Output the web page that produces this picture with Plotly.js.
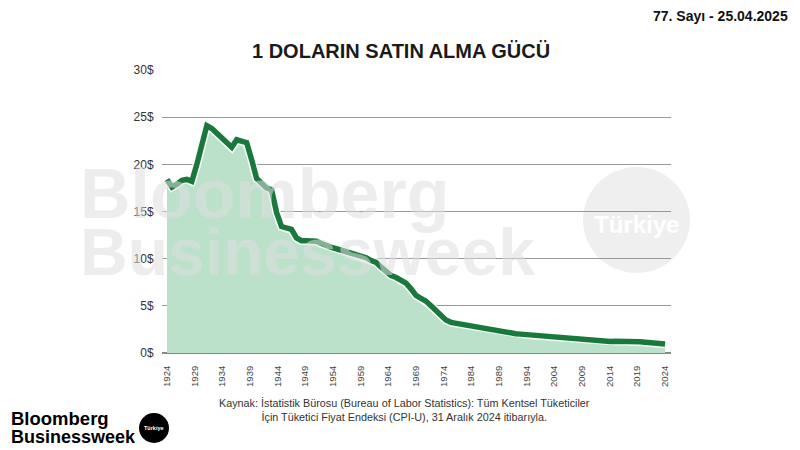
<!DOCTYPE html>
<html><head><meta charset="utf-8">
<script src="https://cdn.plot.ly/plotly-3.0.1.min.js"></script>
<style>html,body{margin:0;padding:0;background:#fff;}#chart{width:800px;height:450px;}</style>
</head><body><div id="chart"></div>
<script>
const years = [1924,1925,1926,1927,1928,1929,1930,1931,1932,1933,1934,1935,1936,1937,1938,1939,1940,1941,1942,1943,1944,1945,1946,1947,1948,1949,1950,1951,1952,1953,1954,1955,1956,1957,1958,1959,1960,1961,1962,1963,1964,1965,1966,1967,1968,1969,1970,1971,1972,1973,1974,1975,1976,1977,1978,1979,1980,1981,1982,1983,1984,1985,1986,1987,1988,1989,1990,1991,1992,1993,1994,1995,1996,1997,1998,1999,2000,2001,2002,2003,2004,2005,2006,2007,2008,2009,2010,2011,2012,2013,2014,2015,2016,2017,2018,2019,2020,2021,2022,2023,2024];
const values = [18.4,17.6,17.9,18.3,18.4,18.2,20.0,22.0,24.1,23.8,23.3,22.9,22.5,21.8,22.6,22.5,22.3,20.5,18.5,18.0,17.5,17.3,14.9,13.4,13.2,13.1,12.2,11.9,11.9,11.9,11.85,11.6,11.35,11.2,11.05,10.9,10.7,10.55,10.35,10.15,10.1,9.8,9.6,9.1,8.6,8.2,8.0,7.7,7.4,6.8,6.1,5.8,5.5,5.0,4.5,3.9,3.5,3.25,3.15,3.05,2.95,2.85,2.75,2.65,2.6,2.5,2.4,2.3,2.2,2.15,2.05,2.0,1.95,1.9,1.85,1.8,1.75,1.7,1.65,1.6,1.58,1.52,1.47,1.43,1.4,1.37,1.33,1.3,1.22,1.23,1.25,1.26,1.27,1.26,1.22,1.18,1.15,1.1,1.05,1.08,0.95];
const tickLabels = ['1924','1929','1934','1939','1944','1949','1954','1959','1964','1969','1974','1984','1989','1994','2004','2009','2014','2019','2024'];
const yTicks = [0,5,10,15,20,25,30];
const yTickLabels = ['0$','5$','10$','15$','20$','25$','30$'];

const title = '1 DOLARIN SATIN ALMA GÜCÜ';
const issue = '77. Sayı - 25.04.2025';
const source = 'Kaynak: İstatistik Bürosu (Bureau of Labor Statistics): Tüm Kentsel Tüketiciler<br>İçin Tüketici Fiyat Endeksi (CPI-U), 31 Aralık 2024 itibarıyla.';

// plot area in pixels
const L = 162, R = 671, T = 70, B = 353;
const px = x => (x - L) / (R - L);
const py = y => (B - y) / (B - T);

const x0 = years[0], x1 = years[years.length - 1];
const tickVals = tickLabels.map((_, i) => x0 + i * (x1 - x0) / (tickLabels.length - 1));

const FONT = 'Liberation Sans, Arial, sans-serif';

const traces = [
  {x: years, y: values, type: 'scatter', mode: 'lines', fill: 'tozeroy',
   fillcolor: '#bbe1cb', line: {width: 0, color: '#bbe1cb'}, hoverinfo: 'skip'},
  {x: years, y: values, type: 'scatter', mode: 'lines',
   line: {width: 8.5, color: 'rgba(255,255,255,0.9)'}, hoverinfo: 'skip'},
  {x: years, y: values, type: 'scatter', mode: 'lines',
   line: {width: 5.5, color: '#19793d'}}
];

const layout = {
  width: 800, height: 450,
  margin: {l: L, r: 800 - R, t: T, b: 450 - B, pad: 0},
  paper_bgcolor: '#ffffff', plot_bgcolor: 'rgba(0,0,0,0)',
  showlegend: false,
  font: {family: FONT, color: '#333'},
  xaxis: {
    range: [x0 - 1, x1 + 1.2], tickvals: tickVals, ticktext: tickLabels,
    tickangle: -90, showgrid: false, zeroline: false, showline: false,
    ticks: 'outside', ticklen: 8, tickcolor: 'rgba(0,0,0,0)',
    tickfont: {size: 9.5, color: '#444', family: FONT}
  },
  yaxis: {
    range: [0, 30], tickvals: yTicks, ticktext: yTickLabels,
    showgrid: true, gridcolor: '#999', gridwidth: 1,
    zeroline: true, zerolinecolor: '#888', zerolinewidth: 1.2,
    showline: false, ticks: 'outside', ticklen: 5, tickcolor: 'rgba(0,0,0,0)',
    tickfont: {size: 12, color: '#333', family: FONT}
  },
  shapes: [
    {type: 'circle', xref: 'paper', yref: 'paper', layer: 'below',
     x0: px(583), x1: px(690), y0: py(273), y1: py(167),
     fillcolor: '#efefef', line: {width: 0}},
    {type: 'circle', xref: 'paper', yref: 'paper', layer: 'above',
     x0: px(139), x1: px(169), y0: py(443), y1: py(413),
     fillcolor: '#000', line: {width: 0}}
  ],
  annotations: [
    {text: title, xref: 'paper', yref: 'paper', x: px(401), y: py(51), xanchor: 'center', yanchor: 'middle',
     showarrow: false, font: {size: 20, color: '#1a1a1a', family: FONT, weight: 'bold'}},
    {text: issue, xref: 'paper', yref: 'paper', x: px(790), y: py(16), xanchor: 'right', yanchor: 'middle',
     showarrow: false, font: {size: 14, color: '#111', family: FONT, weight: 'bold'}},
    {text: 'Bloomberg', xref: 'paper', yref: 'paper', x: px(78), y: py(194), xanchor: 'left', yanchor: 'middle',
     showarrow: false, font: {size: 70, color: 'rgba(222,222,222,0.55)', family: FONT, weight: 'bold'}},
    {text: 'Businessweek', xref: 'paper', yref: 'paper', x: px(78), y: py(252), xanchor: 'left', yanchor: 'middle',
     showarrow: false, font: {size: 66, color: 'rgba(222,222,222,0.55)', family: FONT, weight: 'bold'}},
    {text: 'Türkiye', xref: 'paper', yref: 'paper', x: px(636), y: py(224), xanchor: 'center', yanchor: 'middle',
     showarrow: false, font: {size: 24, color: '#ffffff', family: FONT, weight: 'bold'}},
    {text: source, xref: 'paper', yref: 'paper', x: px(404), y: py(410), xanchor: 'center', yanchor: 'middle',
     showarrow: false, align: 'center', font: {size: 10.8, color: '#333', family: FONT}},
    {text: 'Bloomberg', xref: 'paper', yref: 'paper', x: px(9), y: py(419), xanchor: 'left', yanchor: 'middle',
     showarrow: false, font: {size: 18.5, color: '#000', family: FONT, weight: 'bold'}},
    {text: 'Businessweek', xref: 'paper', yref: 'paper', x: px(9), y: py(437), xanchor: 'left', yanchor: 'middle',
     showarrow: false, font: {size: 18, color: '#000', family: FONT, weight: 'bold'}},
    {text: 'Türkiye', xref: 'paper', yref: 'paper', x: px(154), y: py(428), xanchor: 'center', yanchor: 'middle',
     showarrow: false, font: {size: 5.5, color: '#fff', family: FONT, weight: 'bold'}}
  ]
};

Plotly.newPlot('chart', traces, layout, {displayModeBar: false, staticPlot: true});
</script></body></html>
